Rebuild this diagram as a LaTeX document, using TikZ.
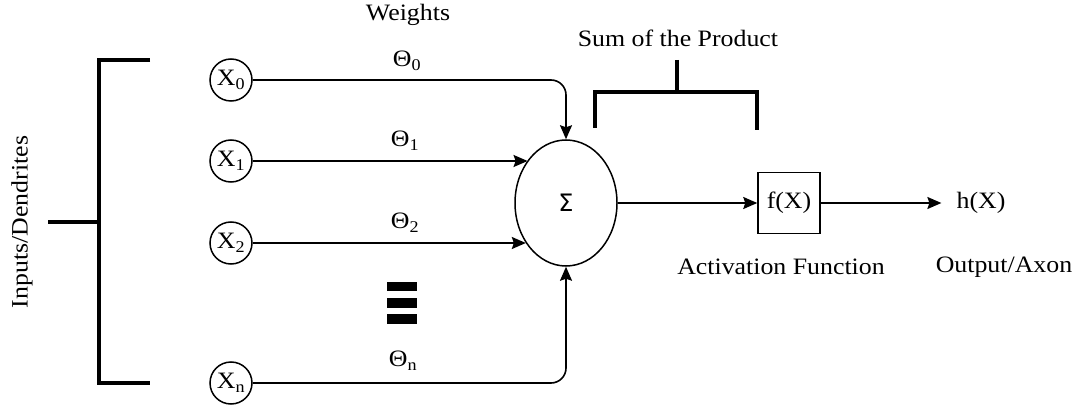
\documentclass[tikz,border=0pt]{standalone}
\usepackage{fontspec}
\setmainfont{Liberation Serif}[FakeStretch=1.1]
\newfontfamily\sigmafont{DejaVu Sans}
\usetikzlibrary{arrows.meta,shapes.geometric}
\begin{document}
\begin{tikzpicture}[x=1pt,y=-1pt,
  every node/.style={font=\fontsize{23.5}{28}\selectfont, inner sep=0pt},
  inp/.style={circle, draw, line width=1.5pt, minimum size=42pt, inner sep=0pt},
  conn/.style={line width=1.6pt, -{Stealth[length=14pt,width=12pt,inset=2pt]}},
  brace/.style={line width=3.2pt}]
\useasboundingbox (0,0) rectangle (1076,406);

% inputs
\node[inp] (x0) at (231,80)  {X\textsubscript{0}};
\node[inp] (x1) at (231,161) {X\textsubscript{1}};
\node[inp] (x2) at (231,243) {X\textsubscript{2}};
\node[inp] (xn) at (231,383) {X\textsubscript{n}};

% summing junction, activation and output
\node[ellipse, draw, line width=1.5pt, minimum width=102pt, minimum height=126pt,
      font=\sigmafont\fontsize{24}{28}\selectfont] (sum) at (566,203) {Σ};
\node[draw, line width=1.5pt, minimum width=62pt, minimum height=61pt] (fx) at (789,203) {f(X)};
\node (hx) at (981,203) {h(X)};

% labels
\node (weights) at (408,15) {Weights};
\node (sumlbl) at (678,38) {Sum of the Product};
\node (act) at (781,267) {Activation Function};
\node (out) at (1004,267) {Output/Axon};
\node[rotate=90] (dend) at (22,222) {Inputs/Dendrites};

% weights
\node (th0) at (407,61)  {Θ\textsubscript{0}};
\node (th1) at (405,141) {Θ\textsubscript{1}};
\node (th2) at (405,223) {Θ\textsubscript{2}};
\node (thn) at (403,361) {Θ\textsubscript{n}};

% connectors
\draw[conn, rounded corners=15pt] (x0.east) -| (sum.north);
\draw[conn] (x1.east) -- (x1 -| sum.132);
\draw[conn] (x2.east) -- (x2 -| sum.225);
\draw[conn, rounded corners=15pt] (xn.east) -| (sum.south);
\draw[conn] (sum.east) -- (fx.west);
\draw[conn, shorten >=15pt] (fx.east) -- (hx.west);

% ellipsis bars between the inputs
\fill (387,282) rectangle (417,291);
\fill (387,298) rectangle (417,308);
\fill (387,314) rectangle (417,324);

% bracket grouping the inputs
\draw[brace] (150,60) -- (99,60) -- (99,383) -- (150,383);
\draw[brace] (48,222) -- (99,222);

% bracket under the sum label
\draw[brace] (595,128) -- (595,92) -- (757,92) -- (757,130);
\draw[brace] (677,60) -- (677,92);
\end{tikzpicture}
\end{document}
